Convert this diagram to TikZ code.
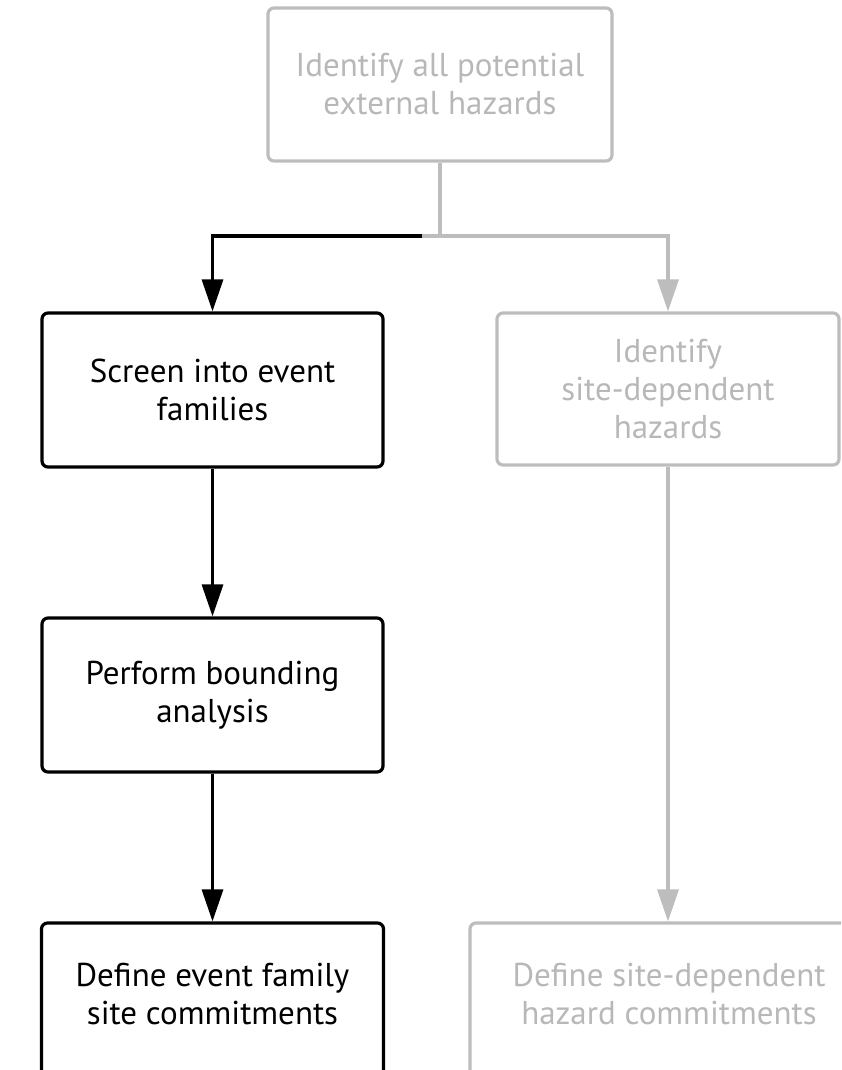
\documentclass[tikz,border=0pt]{standalone}
\usepackage{fontspec}
\setmainfont{PT Sans}
\usetikzlibrary{arrows.meta}
\definecolor{dim}{HTML}{BDBDBD}
\definecolor{dimtext}{HTML}{B8B8B8}
\tikzset{
  box/.style={draw, line width=3.2pt, rounded corners=6pt, align=center,
    font=\fontsize{33}{38}\selectfont, inner sep=0pt},
  activebox/.style={box, draw=black, text=black},
  fadedbox/.style={box, draw=dim, text=dimtext},
  activelink/.style={line width=3.2pt, draw=black,
    -{Triangle[width=21pt,length=32pt,fill=black]}},
  fadedlink/.style={line width=3.2pt, draw=dim,
    -{Triangle[width=21pt,length=32pt,fill=dim]}},
  fadedline/.style={line width=3.2pt, draw=dim},
}
\begin{document}
\begin{tikzpicture}[x=1pt,y=-1pt]
  \path[use as bounding box] (0,0) rectangle (841,1070);
  \clip (0,0) rectangle (841,1070);

  \node[fadedbox, minimum width=344pt, minimum height=153pt] (top) at (440,84.5)
    {Identify all potential\\external hazards};
  \node[activebox, minimum width=341pt, minimum height=154pt] (screen) at (212.5,390)
    {Screen into event\\families};
  \node[fadedbox, minimum width=342pt, minimum height=152pt] (site) at (668,389)
    {Identify\\site-dependent\\hazards};
  \node[activebox, minimum width=341pt, minimum height=154pt] (bound) at (212.5,695)
    {Perform bounding\\analysis};
  \node[activebox, minimum width=342pt, minimum height=154pt] (family) at (212.5,1000)
    {Define event family\\site commitments\\[-25pt]};
  \node[fadedbox, minimum width=398pt, minimum height=154pt] (sitecom) at (669,1000)
    {Define site-dependent\\hazard commitments\\[-25pt]};

  \coordinate (split) at (440,236);
  \coordinate (handoff) at (422,236);

  % split below the first step
  \draw[fadedline] (top.south) -- (split) -- (handoff);
  \draw[fadedlink] (split) -- (668,236) -- (site.north);
  \draw[activelink] (handoff) -- (212.5,236) -- (screen.north);

  % event-family branch
  \draw[activelink] (screen.south) -- (bound.north);
  \draw[activelink] (bound.south) -- (family.north);

  % site-dependent branch
  \draw[fadedlink] (site.south) -- (site.south |- sitecom.north);
\end{tikzpicture}
\end{document}
